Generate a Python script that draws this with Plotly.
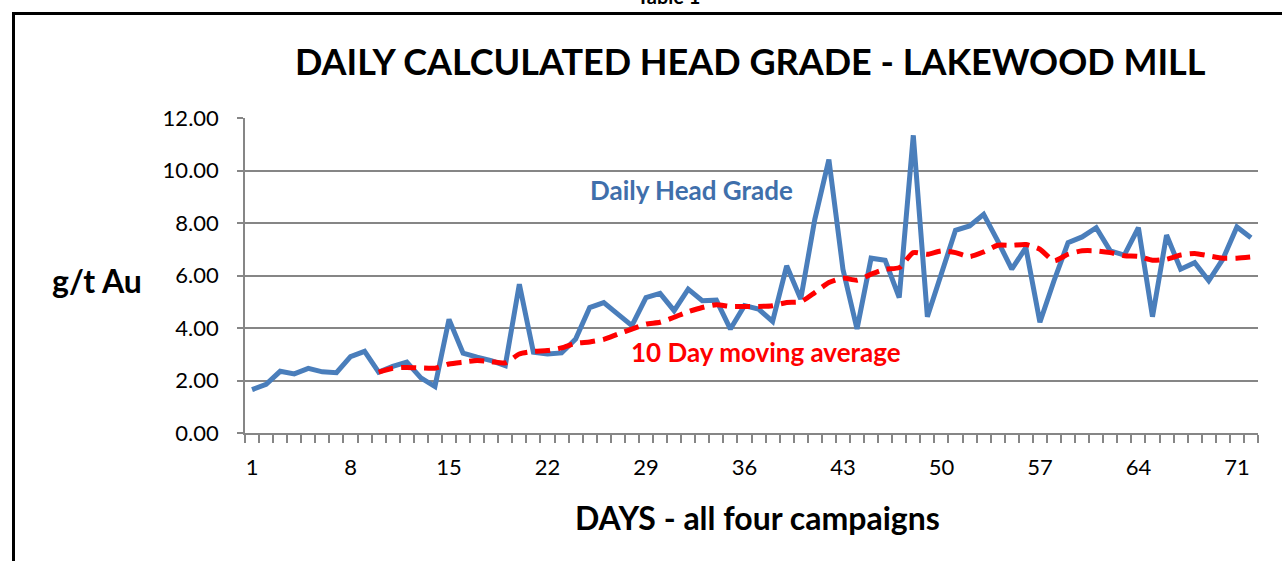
import plotly.graph_objects as go

days = list(range(1, 73))
tick_labels = ["1", "8", "15", "22", "29", "36", "43", "50", "57", "64", "71"]
tick_days = [1, 8, 15, 22, 29, 36, 43, 50, 57, 64, 71]

daily_grade = [
    1.65, 1.85, 2.35, 2.25, 2.46, 2.33, 2.30, 2.91, 3.11, 2.32,
    2.54, 2.70, 2.10, 1.77, 4.33, 3.04, 2.89, 2.76, 2.57, 5.67,
    3.08, 3.01, 3.05, 3.58, 4.78, 4.97, 4.53, 4.09, 5.16, 5.32,
    4.66, 5.48, 5.04, 5.06, 3.96, 4.85, 4.72, 4.25, 6.37, 5.10,
    8.14, 10.42, 6.24, 3.96, 6.66, 6.58, 5.16, 11.34, 4.43, 6.05,
    7.72, 7.89, 8.33, 7.32, 6.24, 7.06, 4.22, 5.80, 7.25, 7.47,
    7.82, 6.94, 6.78, 7.82, 4.43, 7.54, 6.24, 6.49, 5.80, 6.62,
    7.85, 7.44,
]

ma_days = list(range(10, 73))
moving_avg = [
    2.32, 2.47, 2.50, 2.48, 2.47, 2.63, 2.70, 2.76, 2.72, 2.67,
    3.01, 3.11, 3.14, 3.24, 3.42, 3.47, 3.57, 3.77, 3.96, 4.15,
    4.22, 4.41, 4.62, 4.78, 4.89, 4.82, 4.82, 4.82, 4.85, 4.97,
    5.00, 5.35, 5.73, 5.90, 5.82, 6.05, 6.24, 6.30, 6.87, 6.81,
    6.94, 6.87, 6.72, 6.90, 7.15, 7.15, 7.18, 7.00, 6.56, 6.81,
    6.94, 6.94, 6.87, 6.75, 6.73, 6.58, 6.62, 6.78, 6.84, 6.75,
    6.66, 6.66, 6.71,
]

FONT = "Lato"
L, R, T, B = 245, 1258, 118, 433
W, H = 1282, 561


def px(x):
    return (x - L) / (R - L)


def py(y):
    return (B - y) / (B - T)


fig = go.Figure()
fig.add_trace(go.Scatter(
    x=days, y=daily_grade, mode="lines",
    line=dict(color="#4a7ebb", width=5),
    name="Daily Head Grade", showlegend=False,
))
fig.add_trace(go.Scatter(
    x=ma_days, y=moving_avg, mode="lines",
    line=dict(color="#ff0000", width=5, dash="15px,8px", shape="spline", smoothing=0.6),
    name="10 Day moving average", showlegend=False,
))

fig.update_layout(
    width=W, height=H,
    margin=dict(l=L, r=W - R, t=T, b=H - B),
    paper_bgcolor="white", plot_bgcolor="white",
    font=dict(family=FONT, color="black"),
    xaxis=dict(
        range=[0.5, 72.5], tickmode="array", tickvals=tick_days, ticktext=tick_labels,
        ticks="", showgrid=False, zeroline=False,
        showline=True, linecolor="#868686", linewidth=1.5,
        tickfont=dict(size=22, family=FONT), ticklabelstandoff=14,
        minor=dict(ticks="outside", ticklen=8, tick0=0.5, dtick=1,
                   tickcolor="#868686", tickwidth=1.5, showgrid=False),
    ),
    yaxis=dict(
        range=[0, 12], tickmode="array", tickvals=[0, 2, 4, 6, 8, 10, 12],
        ticktext=["0.00", "2.00", "4.00", "6.00", "8.00", "10.00", "12.00"],
        ticks="outside", ticklen=6, tickcolor="#868686", tickwidth=1.5,
        showgrid=True, gridcolor="#868686", gridwidth=1.5, zeroline=False,
        showline=True, linecolor="#868686", linewidth=1.5,
        tickfont=dict(size=22, family=FONT), ticklabelstandoff=14,
    ),
    shapes=[
        dict(type="rect", xref="paper", yref="paper",
             x0=px(13.5), x1=px(1300), y0=py(13.5), y1=py(700),
             line=dict(color="black", width=3), fillcolor="rgba(0,0,0,0)", layer="below"),
    ],
    annotations=[
        dict(text="<b>Table 1</b>", x=px(668), y=py(-4), xref="paper", yref="paper",
             showarrow=False, font=dict(size=20, family=FONT), xanchor="center", yanchor="middle"),
        dict(text="<b>DAILY CALCULATED HEAD GRADE - LAKEWOOD MILL</b>", x=px(750), y=py(61),
             xref="paper", yref="paper", showarrow=False,
             font=dict(size=36, family=FONT), xanchor="center", yanchor="middle"),
        dict(text="<b>g/t Au</b>", x=px(97), y=py(280), xref="paper", yref="paper",
             showarrow=False, font=dict(size=32, family=FONT), xanchor="center", yanchor="middle"),
        dict(text="<b>DAYS - all four campaigns</b>", x=px(757), y=py(517), xref="paper", yref="paper",
             showarrow=False, font=dict(size=32, family=FONT), xanchor="center", yanchor="middle"),
        dict(text="<b>Daily Head Grade</b>", x=px(691), y=py(190), xref="paper", yref="paper",
             showarrow=False, font=dict(size=26, family=FONT, color="#3f6fab"),
             xanchor="center", yanchor="middle"),
        dict(text="<b>10 Day moving average</b>", x=px(766), y=py(352), xref="paper", yref="paper",
             showarrow=False, font=dict(size=26, family=FONT, color="#ff0000"),
             xanchor="center", yanchor="middle"),
    ],
)

fig.write_html("out.html", config={"displayModeBar": False},
               post_script="document.body.style.margin='0';")
